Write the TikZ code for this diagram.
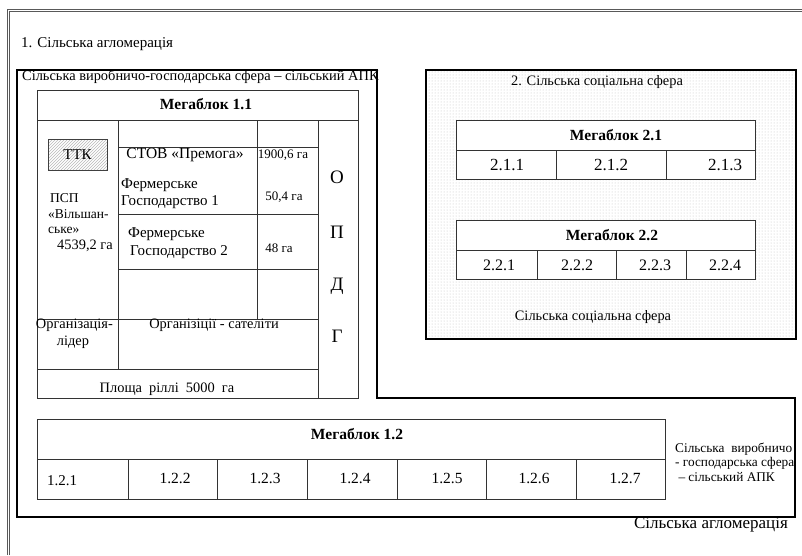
\documentclass[tikz,border=0pt]{standalone}
\usepackage{fontspec}
\setmainfont{Liberation Serif}
\usetikzlibrary{patterns}
\begin{document}
\begin{tikzpicture}[x=1pt,y=-1pt,
  txt/.style={inner sep=0pt, font=\fontsize{15}{16}\selectfont},
  mid/.style={inner sep=0pt, font=\fontsize{14.4}{15}\selectfont},
  sml/.style={inner sep=0pt, font=\fontsize{13}{14}\selectfont},
  bld/.style={inner sep=0pt, font=\fontsize{15.5}{16}\selectfont\bfseries},
  big/.style={inner sep=0pt, font=\fontsize{19}{20}\selectfont},
  grid/.style={draw=black!80, line width=0.8pt},
  heavy/.style={draw=black, line width=1.6pt},
  frame/.style={draw=black!65, line width=0.8pt},
]
\useasboundingbox (0,0) rectangle (802,555);
% outer frame (double line)
\draw[frame] (7,555) -- (7,9) -- (802,9);
\draw[frame] (9.5,555) -- (9.5,11.5) -- (802,11.5);
\node[txt, anchor=west] (t1) at (21,44) {1. Сільська агломерація};
\node[inner sep=0pt, font=\fontsize{17}{18}\selectfont, anchor=east] (tb) at (788,525) {Сільська агломерація};

% APK region
\draw[heavy] (17,70) -- (377,70) -- (377,398) -- (795,398) -- (795,517) -- (17,517) -- cycle;
\node[mid, anchor=west] (apk) at (22,77) {Сільська виробничо-господарська сфера – сільський АПК};

% social sphere
\draw[heavy, pattern=dots, pattern color=gray!50] (426,70) rectangle (796,339);
\node[mid] (s1) at (597,82) {2. Сільська соціальна сфера};
\node[mid] (s2) at (593,317) {Сільська соціальна сфера};

% Megablok 2.1
\draw[grid, fill=white] (456,120) rectangle (755,179);
\draw[grid] (456,150) -- (755,150);
\draw[grid] (556,150) -- (556,179);
\draw[grid] (666,150) -- (666,179);
\node[bld] (m21) at (616,135) {Мегаблок 2.1};
\node[txt, font=\fontsize{17}{18}\selectfont] (c211) at (507,165) {2.1.1};
\node[txt, font=\fontsize{17}{18}\selectfont] (c212) at (611,165) {2.1.2};
\node[txt, font=\fontsize{17}{18}\selectfont] (c213) at (725,165) {2.1.3};

% Megablok 2.2
\draw[grid, fill=white] (456,220) rectangle (755,279);
\draw[grid] (456,250) -- (755,250);
\draw[grid] (537,250) -- (537,279);
\draw[grid] (616,250) -- (616,279);
\draw[grid] (686,250) -- (686,279);
\node[bld] (m22) at (612,235) {Мегаблок 2.2};
\node[txt, font=\fontsize{16}{17}\selectfont] (c221) at (499,265) {2.2.1};
\node[txt, font=\fontsize{16}{17}\selectfont] (c222) at (577,265) {2.2.2};
\node[txt, font=\fontsize{16}{17}\selectfont] (c223) at (655,265) {2.2.3};
\node[txt, font=\fontsize{16}{17}\selectfont] (c224) at (725,265) {2.2.4};

% Megablok 1.1
\draw[grid, fill=white] (37,90) rectangle (358,398);
\draw[grid] (37,120) -- (358,120);
\draw[grid] (318,120) -- (318,398);
\draw[grid] (118,120) -- (118,369);
\draw[grid] (257,120) -- (257,319);
\draw[grid] (118,147) -- (318,147);
\draw[grid] (118,214) -- (318,214);
\draw[grid] (118,269) -- (318,269);
\draw[grid] (37,319) -- (318,319);
\draw[grid] (37,369) -- (318,369);
\node[bld] (m11) at (206,104) {Мегаблок 1.1};
\node[txt, draw=black!75, line width=0.6pt, pattern=north east lines, pattern color=gray!55,
      minimum width=59pt, minimum height=31pt] (ttk) at (77.5,154.5) {ТТК};
\node[sml, font=\fontsize{13.5}{14}\selectfont, anchor=west] (p1) at (50,198) {ПСП};
\node[sml, font=\fontsize{13.5}{14}\selectfont, anchor=west] (p2) at (48,214) {«Вільшан-};
\node[sml, font=\fontsize{13.5}{14}\selectfont, anchor=west] (p3) at (48,230) {ське»};
\node[mid, anchor=west] (p4) at (57,246) {4539,2 га};
\node[txt, font=\fontsize{15.5}{16}\selectfont] (stov) at (185,155) {СТОВ «Премога»};
\node[sml] (a1) at (283,155) {1900,6 га};
\node[txt, anchor=west] (f1a) at (121,185) {Фермерське};
\node[txt, anchor=west] (f1b) at (121,202) {Господарство 1};
\node[sml] (a2) at (284,197) {50,4 га};
\node[txt, anchor=west] (f2a) at (128,234) {Фермерське};
\node[txt, anchor=west] (f2b) at (130,252) {Господарство 2};
\node[sml] (a3) at (279,248) {48 га};
\node[mid, anchor=east] (o1) at (113,325) {Організація-};
\node[mid] (o2) at (73,342) {лідер};
\node[mid] (o3) at (214,325) {Організіції - сателіти};
\node[mid] (pl) at (167,389) {Площа~ ріллі~ 5000~ га};
\node[big] (L1) at (337,177) {О};
\node[big] (L2) at (337,232) {П};
\node[big] (L3) at (337,286) {Д};
\node[big] (L4) at (337,336) {Г};

% Megablok 1.2
\draw[grid, fill=white] (37,419) rectangle (665,499);
\draw[grid] (37,459) -- (665,459);
\foreach \xx in {128,217,307,397,486,576} \draw[grid] (\xx,459) -- (\xx,499);
\node[bld] (m12) at (357,434) {Мегаблок 1.2};
\node[txt, anchor=west] (c121) at (47,481) {1.2.1};
\node[txt, font=\fontsize{15.5}{16}\selectfont] (c122) at (175,478) {1.2.2};
\node[txt, font=\fontsize{15.5}{16}\selectfont] (c123) at (265,478) {1.2.3};
\node[txt, font=\fontsize{15.5}{16}\selectfont] (c124) at (355,478) {1.2.4};
\node[txt, font=\fontsize{15.5}{16}\selectfont] (c125) at (447,478) {1.2.5};
\node[txt, font=\fontsize{15.5}{16}\selectfont] (c126) at (534,478) {1.2.6};
\node[txt, font=\fontsize{15.5}{16}\selectfont] (c127) at (625,478) {1.2.7};
\node[sml, font=\fontsize{13.3}{14}\selectfont, anchor=west] (r1) at (675,449) {Сільська~ виробничо};
\node[sml, font=\fontsize{13.3}{14}\selectfont, anchor=west] (r2) at (675,463) {- господарська сфера};
\node[sml, font=\fontsize{13.3}{14}\selectfont, anchor=west] (r3) at (675,477) {~– сільський АПК};
\end{tikzpicture}
\end{document}
